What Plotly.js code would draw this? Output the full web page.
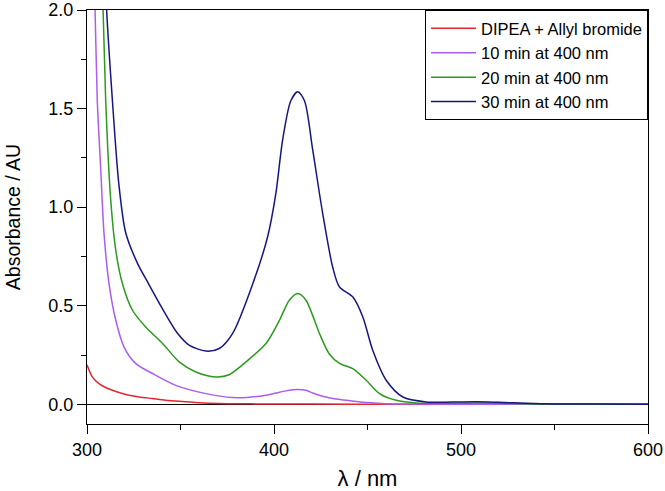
<!DOCTYPE html>
<html>
<head>
<meta charset="utf-8">
<script src="https://cdn.plot.ly/plotly-3.0.1.min.js"></script>
<style>html,body{margin:0;padding:0;background:#fff;}#chart{width:665px;height:491px;}</style>
</head>
<body>
<div id="chart"></div>
<script>
// Wavelengths (nm) and absorbances (AU)
const redX = [300, 302.8, 306.4, 310, 313.6, 318, 322.5, 328, 335, 342, 349.3, 360, 370.7, 390, 420, 460, 520, 600];
const redY = [0.2, 0.139, 0.105, 0.085, 0.071, 0.057, 0.046, 0.037, 0.029, 0.021, 0.015, 0.008, 0.004, 0.002, 0.001, 0.0, 0.0, 0.0];

const purpleX = [302, 304.3, 305.5, 307.3, 309.1, 311.8, 315.4, 319.8, 326.1, 335, 347.5, 363.6, 377.9, 387, 395.7, 401, 406.4, 412.7, 417, 420.7, 426, 431.4, 437, 442.8, 450, 460, 480, 520, 600];
const purpleY = [2.6, 2.0, 1.54, 1.2, 0.866, 0.61, 0.426, 0.29, 0.206, 0.156, 0.096, 0.054, 0.034, 0.036, 0.046, 0.057, 0.068, 0.075, 0.071, 0.057, 0.041, 0.029, 0.022, 0.016, 0.009, 0.003, 0.001, 0.0, 0.0];

const greenX = [306, 308.6, 310, 312.7, 315.4, 319, 324.3, 331.4, 340.3, 349.3, 358.2, 368.9, 376, 385, 395.7, 402.9, 408.2, 412.7, 417.1, 424.3, 429.6, 435, 442.1, 449.3, 456.4, 465.4, 476, 490, 510, 540, 600];
const greenY = [2.5, 2.0, 1.54, 1.035, 0.78, 0.61, 0.477, 0.392, 0.31, 0.215, 0.164, 0.139, 0.15, 0.215, 0.308, 0.426, 0.528, 0.562, 0.528, 0.359, 0.255, 0.207, 0.181, 0.122, 0.054, 0.02, 0.007, 0.005, 0.006, 0.002, 0.0];

const navyX = [308, 310.5, 313.6, 317, 320.7, 327, 333, 340, 348.4, 354.6, 363.6, 370.7, 377.9, 388.6, 396.6, 401, 404.6, 409, 412.7, 416.3, 420.7, 426, 431.4, 435, 442.1, 447.5, 452.8, 460, 468.9, 481.4, 495, 508, 520, 535, 550, 570, 600];
const navyY = [2.6, 2.0, 1.54, 1.12, 0.87, 0.715, 0.61, 0.49, 0.36, 0.30, 0.27, 0.283, 0.36, 0.61, 0.85, 1.07, 1.34, 1.54, 1.585, 1.54, 1.29, 0.97, 0.695, 0.595, 0.545, 0.443, 0.274, 0.122, 0.037, 0.012, 0.011, 0.013, 0.01, 0.005, 0.002, 0.001, 0.0];

const seriesNames = ["DIPEA + Allyl bromide", "10 min at 400 nm", "20 min at 400 nm", "30 min at 400 nm"];
const seriesColors = ["#e3262f", "#ac5cf0", "#2c9a1e", "#161682"];

const xs = [redX, purpleX, greenX, navyX];
const ys = [redY, purpleY, greenY, navyY];

const traces = xs.map((x, i) => ({
  x: x, y: ys[i], name: seriesNames[i], type: 'scatter', mode: 'lines',
  line: {color: seriesColors[i], width: 1.5, shape: 'spline', smoothing: 0.8},
  cliponaxis: true
}));

const font = {family: 'Arial, "Liberation Sans", sans-serif', color: '#000'};

const layout = {
  width: 665, height: 491,
  margin: {l: 87, r: 17, t: 10, b: 67},
  paper_bgcolor: '#fff', plot_bgcolor: '#fff',
  font: Object.assign({size: 18}, font),
  showlegend: true,
  legend: {
    x: 1, xanchor: 'right', y: 1, yanchor: 'top',
    bordercolor: '#000', borderwidth: 1, bgcolor: '#fff',
    font: Object.assign({size: 16.5}, font),
    itemwidth: 45,
    tracegroupgap: 0
  },
  xaxis: {
    range: [300, 600], dtick: 100, tick0: 300,
    ticks: 'outside', ticklen: 9, tickwidth: 1, tickcolor: '#000',
    minor: {ticks: 'outside', dtick: 50, ticklen: 5, tickcolor: '#000', tickwidth: 1},
    showline: true, linecolor: '#000', linewidth: 1, mirror: true,
    showgrid: false, zeroline: false,
    tickfont: Object.assign({size: 18}, font),
    title: {text: 'λ / nm', font: Object.assign({size: 22}, font), standoff: 12}
  },
  yaxis: {
    range: [-0.1, 2.0], dtick: 0.5, tick0: 0, tickformat: '.1f',
    ticks: 'outside', ticklen: 9, tickwidth: 1, tickcolor: '#000',
    minor: {ticks: 'outside', dtick: 0.25, ticklen: 5, tickcolor: '#000', tickwidth: 1},
    showline: true, linecolor: '#000', linewidth: 1, mirror: true,
    showgrid: false, zeroline: true, zerolinecolor: '#000', zerolinewidth: 1,
    tickfont: Object.assign({size: 18}, font),
    title: {text: 'Absorbance / AU', font: Object.assign({size: 19.5}, font), standoff: 22}
  }
};

Plotly.newPlot('chart', traces, layout, {displayModeBar: false, staticPlot: true});
</script>
</body>
</html>
